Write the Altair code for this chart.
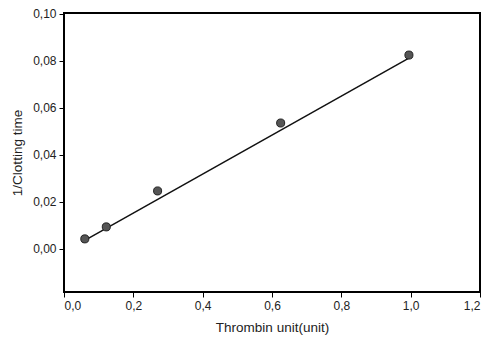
import altair as alt
import pandas as pd

thrombin = [0.06, 0.122, 0.27, 0.625, 0.995]
inv_clot = [0.0043, 0.0094, 0.0247, 0.0536, 0.0825]
fit_x = [0.06, 1.0]
fit_y = [0.0037, 0.0816]
x_ticks = [0.0, 0.2, 0.4, 0.6, 0.8, 1.0, 1.2]
y_ticks = [0.0, 0.02, 0.04, 0.06, 0.08, 0.10]

pts = pd.DataFrame({"x": thrombin, "y": inv_clot})
fit = pd.DataFrame({"x": fit_x, "y": fit_y})

font = "Liberation Sans"
xs = alt.Scale(domain=[0, 1.2], nice=False, zero=False)
ys = alt.Scale(domain=[-0.0183, 0.1004], nice=False, zero=False)

xaxis = alt.Axis(values=x_ticks, format=".1f", labelExpr="replace(datum.label, '.', ',')",
                 title="Thrombin unit(unit)", grid=False, domain=False, tickColor="black",
                 tickSize=5, labelFont=font, labelFontSize=12, labelColor="#222",
                 titleFont=font, titleFontSize=13.5, titleFontWeight="normal", titleColor="#222",
                 titlePadding=9, labelPadding=3)
yaxis = alt.Axis(values=y_ticks, format=".2f", labelExpr="replace(datum.label, '.', ',')",
                 title="1/Clotting time", grid=False, domain=False, tickColor="black",
                 tickSize=5, labelFont=font, labelFontSize=12, labelColor="#222",
                 titleFont=font, titleFontSize=13.5, titleFontWeight="normal", titleColor="#222",
                 titlePadding=8, labelPadding=3)

line = alt.Chart(fit).mark_line(color="#111", strokeWidth=1.5).encode(
    x=alt.X("x:Q", scale=xs, axis=xaxis),
    y=alt.Y("y:Q", scale=ys, axis=yaxis),
)
dots = alt.Chart(pts).mark_point(filled=True, shape="circle", size=65, color="#555",
                                 stroke="#222", strokeWidth=1, opacity=1).encode(
    x=alt.X("x:Q", scale=xs),
    y=alt.Y("y:Q", scale=ys),
)

chart = (line + dots).properties(
    width=416, height=279,
    autosize=alt.AutoSizeParams(type="none"),
    padding={"left": 64, "top": 13, "right": 10, "bottom": 51},
    background="white",
).configure_view(stroke="black", strokeWidth=2)

chart.save("out.html", embed_options={"renderer": "svg", "actions": False})
